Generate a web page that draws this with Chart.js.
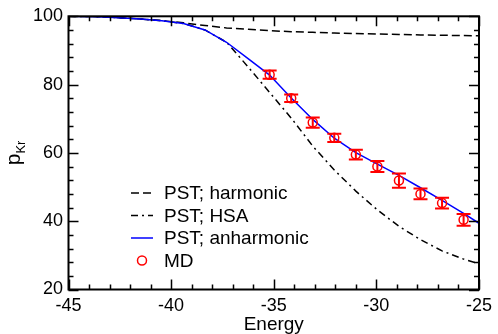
<!DOCTYPE html>
<html>
<head>
<meta charset="utf-8">
<script src="https://cdn.jsdelivr.net/npm/chart.js@4"></script>
<style>
  html, body { margin: 0; padding: 0; background: #fff; }
</style>
</head>
<body>
<canvas id="pkr-chart" width="498" height="334"></canvas>
<script>
// PST curves, sampled on the same energy grid
const energy = [-45, -43.6, -42.55, -41.5, -40.45, -39.4, -38.35, -37.3, -36.25, -35.2,
                -34.15, -33.1, -32.05, -31, -29.95, -28.9, -27.85, -26.8, -25.75, -25];
const harmonic = [100, 99.9, 99.6, 99.2, 98.7, 98.1, 97.3, 96.6, 96.2, 95.8,
                  95.5, 95.3, 95.1, 94.95, 94.8, 94.7, 94.55, 94.45, 94.35, 94.3];
const hsa = [100, 99.9, 99.6, 99.2, 98.7, 97.9, 96.0, 92.4, 85.2, 77.7,
             70.2, 62.0, 55.0, 48.8, 43.3, 38.5, 34.6, 31.3, 28.9, 27.5];
const anharmonic = [100, 99.9, 99.6, 99.2, 98.7, 97.9, 96.0, 92.4, 87.6, 82.8,
                    76.1, 69.8, 64.3, 60.1, 56.7, 53.4, 49.8, 46.1, 42.3, 39.4];

// MD points with error bars
const mdEnergy = [-35.2, -34.15, -33.1, -32.05, -31, -29.95, -28.9, -27.85, -26.8, -25.75];
const mdValues = [82.9, 76.0, 68.9, 64.4, 59.5, 56.0, 51.9, 48.0, 45.3, 40.4];
const mdErrors = [1.2, 1.1, 1.5, 1.2, 1.4, 1.6, 2.1, 1.6, 1.6, 1.7];

const xTicks = [-45, -40, -35, -30, -25];
const yTicks = [20, 40, 60, 80, 100];
const legendLabels = ["PST; harmonic", "PST; HSA", "PST; anharmonic", "MD"];

const FONT = "'Liberation Sans', Arial, Helvetica, sans-serif";
const DASH_HARM = [8, 4];
const DASH_HSA = [7, 4, 2, 4];

function toPoints(xs, ys) {
    return xs.map((x, i) => ({ x: x, y: ys[i] }));
}

// error bars for the MD set
const errorBars = {
    id: "errorBars",
    afterDatasetsDraw(chart) {
        const ctx = chart.ctx;
        const xs = chart.scales.x;
        const ys = chart.scales.y;
        ctx.save();
        ctx.strokeStyle = "#ff0000";
        ctx.lineWidth = 2;
        mdEnergy.forEach((e, i) => {
            const px = xs.getPixelForValue(e);
            const top = ys.getPixelForValue(mdValues[i] + mdErrors[i]);
            const bot = ys.getPixelForValue(mdValues[i] - mdErrors[i]);
            ctx.beginPath();
            ctx.moveTo(px, top); ctx.lineTo(px, bot);
            ctx.moveTo(px - 7, top); ctx.lineTo(px + 7, top);
            ctx.moveTo(px - 7, bot); ctx.lineTo(px + 7, bot);
            ctx.stroke();
        });
        ctx.restore();
    },
};

// frame, inward ticks, axis titles and the legend
const decorations = {
    id: "decorations",
    afterDraw(chart) {
        const ctx = chart.ctx;
        const a = chart.chartArea;
        const xs = chart.scales.x;
        const ys = chart.scales.y;
        ctx.save();
        ctx.strokeStyle = "#000";
        ctx.lineWidth = 2;
        ctx.setLineDash([]);
        ctx.strokeRect(a.left, a.top, a.right - a.left, a.bottom - a.top);

        ctx.lineWidth = 1.5;
        ctx.beginPath();
        for (let v = xs.min; v <= xs.max; v += 1) {
            const len = v % 5 === 0 ? 10 : 5;
            const px = Math.round(xs.getPixelForValue(v)) + 0.5;
            ctx.moveTo(px, a.bottom); ctx.lineTo(px, a.bottom - len);
            ctx.moveTo(px, a.top); ctx.lineTo(px, a.top + len);
        }
        for (let v = ys.min; v <= ys.max; v += 4) {
            const len = (v - ys.min) % 20 === 0 ? 10 : 5;
            const py = Math.round(ys.getPixelForValue(v)) + 0.5;
            ctx.moveTo(a.left, py); ctx.lineTo(a.left + len, py);
            ctx.moveTo(a.right, py); ctx.lineTo(a.right - len, py);
        }
        ctx.stroke();

        // x title
        ctx.fillStyle = "#000";
        ctx.textAlign = "center";
        ctx.textBaseline = "alphabetic";
        ctx.font = "19px " + FONT;
        ctx.fillText("Energy", (a.left + a.right) / 2, 330);

        // y title p_Kr
        ctx.save();
        ctx.translate(20, (a.top + a.bottom) / 2);
        ctx.rotate(-Math.PI / 2);
        ctx.font = "21px " + FONT;
        const wp = ctx.measureText("p").width;
        ctx.font = "13px " + FONT;
        const wk = ctx.measureText("Kr").width;
        const start = -(wp + wk) / 2;
        ctx.textAlign = "left";
        ctx.font = "21px " + FONT;
        ctx.fillText("p", start, 0);
        ctx.font = "13px " + FONT;
        ctx.fillText("Kr", start + wp, 5);
        ctx.restore();

        // legend
        const rows = [193, 215.5, 238, 260.5];
        ctx.font = "19px " + FONT;
        ctx.textAlign = "left";
        ctx.textBaseline = "middle";
        legendLabels.forEach((label, i) => {
            const y = rows[i];
            ctx.lineWidth = 1.5;
            if (i === 0) {
                ctx.strokeStyle = "#000"; ctx.setLineDash(DASH_HARM);
            } else if (i === 1) {
                ctx.strokeStyle = "#000"; ctx.setLineDash(DASH_HSA);
            } else if (i === 2) {
                ctx.strokeStyle = "#0000ff"; ctx.setLineDash([]);
            }
            if (i < 3) {
                ctx.beginPath();
                ctx.moveTo(131, y); ctx.lineTo(153, y);
                ctx.stroke();
            } else {
                ctx.setLineDash([]);
                ctx.strokeStyle = "#ff0000";
                ctx.beginPath();
                ctx.arc(142, y, 4.5, 0, Math.PI * 2);
                ctx.stroke();
            }
            ctx.fillStyle = "#000";
            ctx.fillText(label, 164, y + 1);
        });
        ctx.restore();
    },
};

const chart = new Chart(document.getElementById("pkr-chart"), {
    type: "line",
    data: {
        datasets: [
            {
                label: legendLabels[0],
                data: toPoints(energy, harmonic),
                borderColor: "#000",
                borderWidth: 1.5,
                borderDash: DASH_HARM,
                pointRadius: 0,
                order: 3,
            },
            {
                label: legendLabels[1],
                data: toPoints(energy, hsa),
                borderColor: "#000",
                borderWidth: 1.5,
                borderDash: DASH_HSA,
                pointRadius: 0,
                order: 2,
            },
            {
                label: legendLabels[2],
                data: toPoints(energy, anharmonic),
                borderColor: "#0000ff",
                borderWidth: 1.5,
                pointRadius: 0,
                order: 1,
            },
            {
                label: legendLabels[3],
                data: toPoints(mdEnergy, mdValues),
                showLine: false,
                borderColor: "#ff0000",
                backgroundColor: "rgba(0,0,0,0)",
                borderWidth: 1.5,
                pointRadius: 4.5,
                pointStyle: "circle",
                order: 0,
            },
        ],
    },
    options: {
        responsive: false,
        animation: false,
        events: [],
        layout: { padding: { top: 15.5, right: 15.5, left: 0, bottom: 0 } },
        plugins: {
            legend: { display: false },
            tooltip: { enabled: false },
        },
        scales: {
            x: {
                type: "linear",
                min: -45,
                max: -25,
                afterBuildTicks(scale) {
                    scale.ticks = xTicks.map(v => ({ value: v }));
                },
                ticks: {
                    autoSkip: false,
                    maxRotation: 0,
                    padding: 6,
                    color: "#000",
                    font: { family: FONT, size: 18 },
                },
                grid: { display: false, drawTicks: false },
                border: { display: false },
                afterFit(scale) { scale.height = 44.5; },
            },
            y: {
                type: "linear",
                min: 20,
                max: 100,
                afterBuildTicks(scale) {
                    scale.ticks = yTicks.map(v => ({ value: v }));
                },
                ticks: {
                    autoSkip: false,
                    padding: 5.5,
                    color: "#000",
                    font: { family: FONT, size: 18 },
                },
                grid: { display: false, drawTicks: false },
                border: { display: false },
                afterFit(scale) { scale.width = 68.5; },
            },
        },
    },
    plugins: [errorBars, decorations],
});
</script>
</body>
</html>
